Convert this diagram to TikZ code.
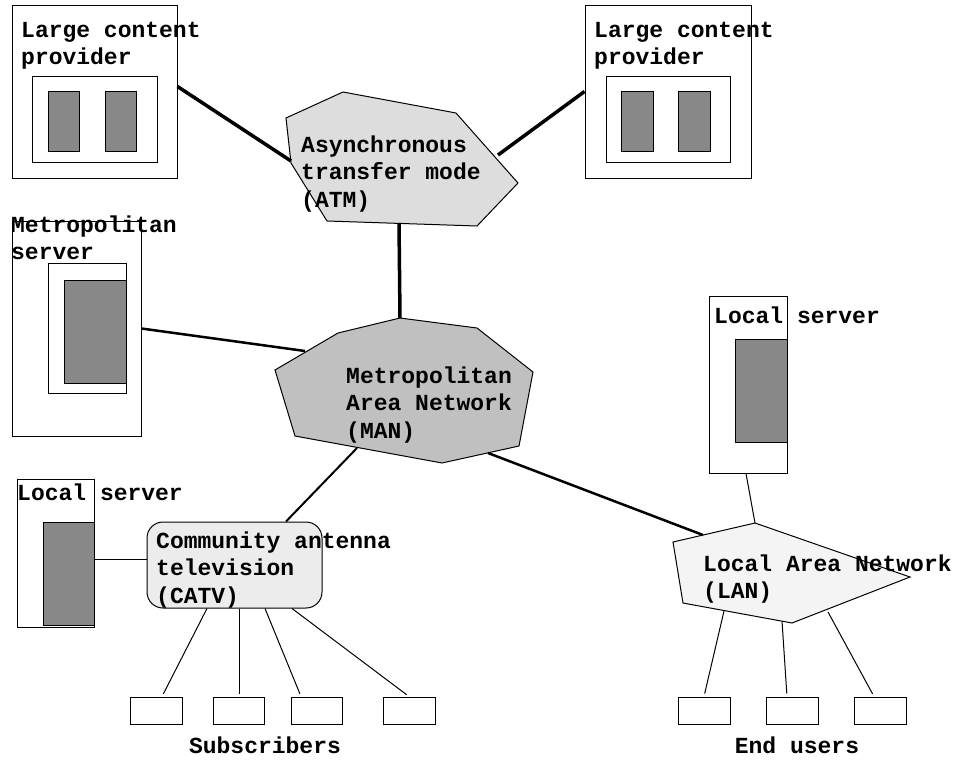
\documentclass[tikz,border=0pt]{standalone}
\usepackage{fontspec}
\newfontfamily\lblfont{Liberation Mono}
\usetikzlibrary{calc}
\definecolor{darkfill}{HTML}{888888}
\definecolor{atmfill}{HTML}{DDDDDD}
\definecolor{manfill}{HTML}{C0C0C0}
\definecolor{catvfill}{HTML}{ECECEC}
\definecolor{lanfill}{HTML}{F4F4F4}
\tikzset{
  box/.style={draw=black, line width=1pt, fill=white, rectangle, inner sep=0pt},
  darkbox/.style={draw=black, line width=1pt, fill=darkfill, rectangle, inner sep=0pt},
  netshape/.style={draw=black, line width=1pt},
  % multi-line labels are placed by the baseline of their last line
  lbl/.style={inner sep=0pt, align=left, anchor=base west,
    font=\lblfont\bfseries\fontsize{23}{27.5}\selectfont},
  caption/.style={inner sep=0pt, anchor=base,
    font=\lblfont\bfseries\fontsize{23}{27.5}\selectfont},
  heavy/.style={line width=3.5pt},
  medium/.style={line width=2.5pt},
  light/.style={line width=1pt},
  leaf/.style={line width=1pt, shorten >=3pt},
}
\begin{document}
\begin{tikzpicture}[x=1pt, y=-1pt]
\useasboundingbox (0,0) rectangle (959,764);

% ---------- large content providers ----------
\node[box, minimum width=165, minimum height=173] (lcpA) at (94.5,91.5) {};
\node[box, minimum width=125, minimum height=86] (lcpAin) at (94.5,119) {};
\node[darkbox, minimum width=31, minimum height=60] (lcpAd1) at (63.5,121) {};
\node[darkbox, minimum width=31, minimum height=60] (lcpAd2) at (120.5,121) {};
\node[lbl] (lcpAtxt) at (21,64.5) {Large content\\provider};

\node[box, minimum width=166, minimum height=173] (lcpB) at (668,91.5) {};
\node[box, minimum width=124, minimum height=86] (lcpBin) at (668,119) {};
\node[darkbox, minimum width=32, minimum height=60] (lcpBd1) at (637,121) {};
\node[darkbox, minimum width=32, minimum height=60] (lcpBd2) at (694,121) {};
\node[lbl] (lcpBtxt) at (594,64.5) {Large content\\provider};

% ---------- metropolitan server ----------
\node[box, minimum width=129, minimum height=215] (ms) at (76.5,328.5) {};
\node[box, minimum width=78, minimum height=130] (msin) at (87,328) {};
\node[darkbox, minimum width=62, minimum height=103] (msd) at (95,331.5) {};
\node[lbl] (mstxt) at (11,259.5) {Metropolitan\\server};

% ---------- local servers ----------
\node[box, minimum width=77, minimum height=148] (lsA) at (55.5,553) {};
\node[darkbox, minimum width=51, minimum height=103] (lsAd) at (68.5,573.5) {};
\node[lbl] (lsAtxt) at (17,500) {Local server};

\node[box, minimum width=78, minimum height=177] (lsB) at (748,384.5) {};
\node[darkbox, minimum width=52, minimum height=103] (lsBd) at (761,390.5) {};
\node[lbl] (lsBtxt) at (714,323) {Local server};

% ---------- ATM cloud ----------
\coordinate (atmW) at (291,161);
\coordinate (atmE) at (498,155);
\coordinate (atmS) at (399,223);
\draw[netshape, fill=atmfill] (286,118) -- (343,92) -- (456,113) -- (518,183)
  -- (477,226) -- (327,221) -- (291,163) -- cycle;
\node[lbl] (atmtxt) at (301,207) {Asynchronous\\transfer mode\\(ATM)};

% ---------- MAN ----------
\coordinate (manN) at (400,318);
\coordinate (manW) at (305,351);
\coordinate (manSW) at (357,448);
\coordinate (manSE) at (488,453);
\draw[netshape, fill=manfill] (400,318) -- (477,328) -- (533,372) -- (519,446)
  -- (442,463) -- (295,436) -- (275,370) -- (338,333) -- cycle;
\node[lbl] (mantxt) at (346,438) {Metropolitan\\Area Network\\(MAN)};

% ---------- CATV ----------
\node[draw=black, line width=1pt, fill=catvfill, rounded corners=16pt,
  minimum width=175, minimum height=86, inner sep=0pt] (catv) at (234.5,565) {};
\node[lbl] (catvtxt) at (156,603) {Community antenna\\television\\(CATV)};

% ---------- LAN ----------
\coordinate (lanN) at (755,523);
\coordinate (lanNW) at (703,535);
\coordinate (lanS1) at (724,611);
\coordinate (lanS2) at (782,621);
\coordinate (lanS3) at (828,612);
\draw[netshape, fill=lanfill] (673,542) -- (755,523) -- (910,577) -- (792,623)
  -- (683,603) -- cycle;
\node[lbl] (lantxt) at (703,598.5) {Local Area Network\\(LAN)};

% ---------- subscribers and end users ----------
\node[box, minimum width=52, minimum height=27] (sub1) at (156,710.5) {};
\node[box, minimum width=51, minimum height=27] (sub2) at (238.5,710.5) {};
\node[box, minimum width=51, minimum height=27] (sub3) at (316.5,710.5) {};
\node[box, minimum width=52, minimum height=27] (sub4) at (409,710.5) {};
\node[caption] (subtxt) at (265,753) {Subscribers};

\node[box, minimum width=52, minimum height=27] (usr1) at (704,710.5) {};
\node[box, minimum width=52, minimum height=27] (usr2) at (792,710.5) {};
\node[box, minimum width=52, minimum height=27] (usr3) at (880,710.5) {};
\node[caption] (usrtxt) at (797,753) {End users};

% ---------- backbone links ----------
\draw[heavy] ($(lcpA.east)+(0,-5)$) -- (atmW);
\draw[heavy] (atmE) -- (lcpB.west);
\draw[heavy] (atmS) -- (manN);
\draw[medium] (ms.east) -- (manW);
\draw[line width=2pt] (manSW) -- ($(catv.north)+(51.5,0)$);
\draw[medium] (manSE) -- (lanNW);

% ---------- access links ----------
\draw[light] ($(lsA.east)+(0,6)$) -- ($(catv.west)+(0,-6)$);
\draw[light] ($(lsB.south)+(-2,0)$) -- (lanN);

\draw[leaf] ($(catv.south)+(-27.5,0)$) -- ($(sub1.north)+(6,0)$);
\draw[leaf] ($(catv.south)+(4.5,0)$) -- ($(sub2.north)+(0.5,0)$);
\draw[leaf] ($(catv.south)+(30.5,0)$) -- ($(sub3.north)+(-15.5,0)$);
\draw[leaf] ($(catv.south)+(57.5,0)$) -- (sub4.north);

\draw[leaf] (lanS1) -- (usr1.north);
\draw[leaf] (lanS2) -- ($(usr2.north)+(-5,0)$);
\draw[leaf] (lanS3) -- ($(usr3.north)+(-6,0)$);
\end{tikzpicture}
\end{document}
